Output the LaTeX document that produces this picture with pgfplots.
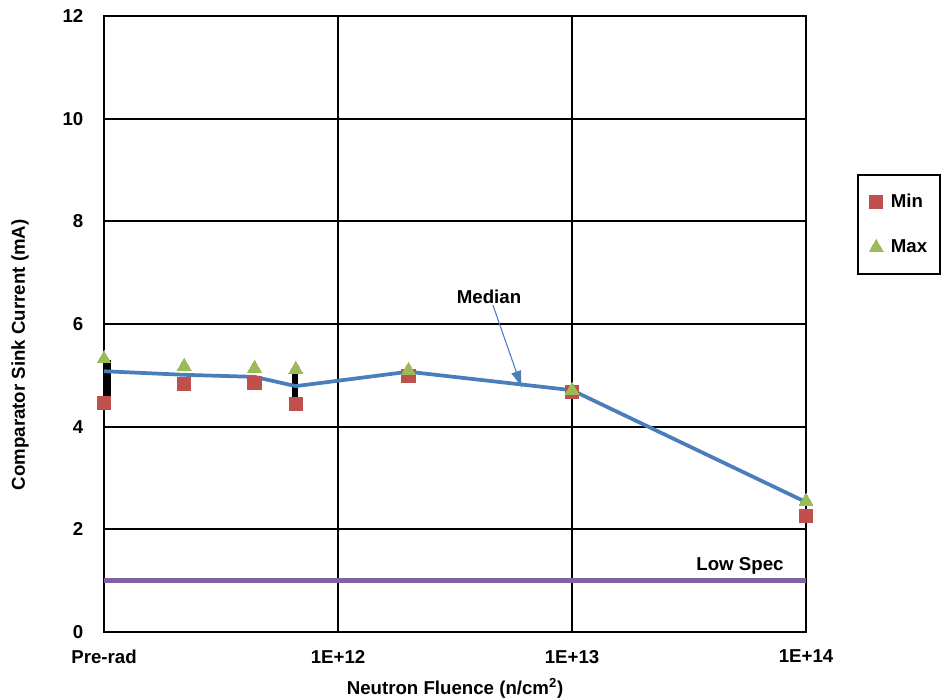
\documentclass[border=0pt]{standalone}
\usepackage{fontspec}
\setmainfont{Liberation Sans}
\usepackage{pgfplots}
\pgfplotsset{compat=1.18}
\usetikzlibrary{arrows.meta}
\definecolor{cred}{HTML}{C0504D}
\definecolor{cgreen}{HTML}{9BBB59}
\definecolor{cblue}{HTML}{4A7EBB}
\definecolor{cpurple}{HTML}{7F62A0}
\begin{document}
\begin{tikzpicture}
\useasboundingbox (-78pt,-51pt) rectangle (634.5pt,474pt);
\begin{axis}[
  scale only axis,
  width=526.5pt, height=462pt,
  xmode=log, xmin=1e11, xmax=1e14,
  ymin=0, ymax=12,
  xtick={1e11,1e12,1e13,1e14},
  xticklabels={Pre-rad,1E+12,1E+13,1E+14},
  ytick={0,2,4,6,8,10,12},
  minor xtick={}, 
  log ticks with fixed point,
  major tick length=0pt, minor tick length=0pt,
  xminorgrids=false,
  grid=major,
  major grid style={black, line width=1.4pt},
  axis line style={black, line width=1.8pt},
  /pgf/number format/assume math mode=true,
  ticklabel style={font=\fontsize{14}{16}\selectfont\bfseries},
  yticklabel style={xshift=-12pt},
  xticklabel style={yshift=-10pt},
  label style={font=\fontsize{14}{16}\selectfont\bfseries},
  xlabel={Neutron Fluence (n/cm\textsuperscript{2})},
  ylabel={Comparator Sink Current (mA)},
  xlabel style={at={(axis description cs:0.5,-0.0909)}, anchor=center},
  ylabel style={at={(axis description cs:-0.1197,0.45)}, anchor=center},
  clip=false,
  legend style={at={(axis description cs:1.0726,0.7435)}, anchor=north west,
    draw=black, line width=1.5pt, inner xsep=8.5pt, inner ysep=13.5pt,
    row sep=20.5pt, font=\fontsize{14}{16}\selectfont\bfseries,
    nodes={inner sep=1pt}},
  legend cell align=left,
]
% Low spec
\addplot[cpurple, line width=3.9pt, forget plot] coordinates {(1e11,1) (1e14,1)};
% high-low bars
\addplot[black, line width=4.2pt, forget plot] coordinates {(1.04e11,4.52) (1.04e11,5.30)};
\addplot[black, line width=4.2pt, forget plot] coordinates {(6.54e11,4.46) (6.54e11,5.14)};
% median
\addplot[cblue, line width=2.8pt, forget plot] coordinates {
  (1e11,5.08) (2.2e11,5.01) (4.4e11,4.97) (6.6e11,4.79) (2e12,5.07) (1e13,4.71) (1e14,2.53)};
% min
\addplot[only marks, mark=square*, mark size=5pt, mark options={fill=cred, draw=cred, line width=0pt},
  legend image code/.code={\path[draw=none,fill=none] (0.02cm,0cm) rectangle (0.55cm,0cm); \path[draw=none,mark repeat=2,mark phase=2] plot coordinates {(0cm,0cm)(0.2cm,0cm)(0.4cm,0cm)};}] coordinates {
  (1e11,4.46) (2.2e11,4.83) (4.4e11,4.85) (6.6e11,4.44) (2e12,4.99) (1e13,4.68) (1e14,2.26)};
\addlegendentry{Min}
% max
\addplot[only marks, mark=triangle*, mark size=6pt, mark options={fill=cgreen, draw=cgreen, line width=0pt},
  legend image code/.code={\path[draw=none,fill=none] (0.02cm,0cm) rectangle (0.55cm,0cm); \path[draw=none,mark repeat=2,mark phase=2] plot coordinates {(0cm,0cm)(0.2cm,0cm)(0.4cm,0cm)};}] coordinates {
  (1e11,5.32) (2.2e11,5.18) (4.4e11,5.14) (6.6e11,5.12) (2e12,5.10) (1e13,4.71) (1e14,2.55)};
\addlegendentry{Max}
% annotations
\node[font=\fontsize{14}{16}\selectfont\bfseries] at (axis cs:4.42e12,6.53) {Median};
\draw[-{Latex[length=13pt,width=8pt]}, cblue, line width=0.8pt] (axis cs:4.59e12,6.37) -- (axis cs:6.11e12,4.75);
\node[font=\fontsize{14}{16}\selectfont\bfseries] at (axis cs:5.22e13,1.28) {Low Spec};
\end{axis}
\end{tikzpicture}
\end{document}
